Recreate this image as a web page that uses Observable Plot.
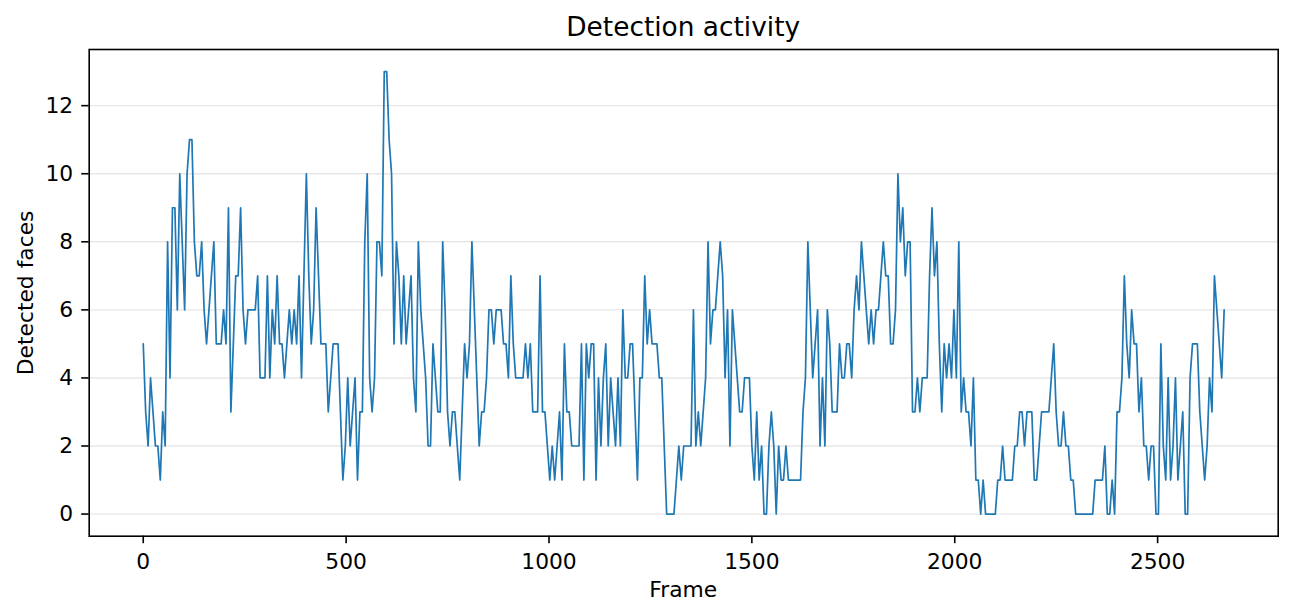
<!DOCTYPE html>
<html>
<head>
<meta charset="utf-8">
<script src="https://cdn.jsdelivr.net/npm/d3@7"></script>
<script src="https://cdn.jsdelivr.net/npm/@observablehq/plot@0.6"></script>
<style>
  html, body { margin: 0; padding: 0; background: #fff; }
  #wrap { position: relative; width: 1293px; height: 616px; font-family: "DejaVu Sans", sans-serif; color: #000; overflow: hidden; background: #fff; }
  #title { position: absolute; left: 88.7px; width: 1189px; top: 13.6px; text-align: center; font-size: 26.4px; line-height: 26.4px; white-space: nowrap; }
  #xlabel { position: absolute; left: 88.7px; width: 1189px; top: 578.6px; text-align: center; font-size: 21.8px; line-height: 21.8px; white-space: nowrap; }
  #ylabel { position: absolute; left: -174px; width: 400px; top: 281.5px; text-align: center; font-size: 21.8px; line-height: 21.8px; white-space: nowrap; transform: rotate(-90deg); }
  #chart { position: absolute; left: 0; top: 48px; }
</style>
</head>
<body>
<div id="wrap">
  <div id="title">Detection activity</div>
  <div id="chart"></div>
  <div id="xlabel">Frame</div>
  <div id="ylabel">Detected faces</div>
</div>
<script>
// Detected faces per sampled frame (one sample every 6 frames)
const faces = [
  5,3,2,4,3,2,2,1,3,2, 8,4,9,9,6,10,8,6,10,11, 11,8,7,7,8,6,5,6,7,8, 5,5,5,6,5,9,3,5,7,7,
  9,6,5,6,6,6,6,7,4,4, 4,7,4,6,5,
  7,5,5,4,5,6,5,6,5,7, 4,7,10,7,5,6,9,7,5,5, 5,3,4,5,5,5,3,1,2,4, 2,3,4,1,3,3,8,10,4,3,
  4,8,8,7,13,13,11,10,5,8, 7,5,7,
  5,6,7,4,3,8,6,5,4,2, 2,5,4,3,3,8,6,3,2,3, 3,2,1,3,5,4,5,8,6,4, 2,3,3,4,6,6,5,6,6,6,
  5,5,4,7,5,4,4,4,4,5, 4,5,3,3,3,7,3,3,
  2,1,2,1,2,3,1,5,3,3, 2,2,2,2,5,1,5,4,5,5, 1,4,2,4,5,2,4,3,2,4, 2,6,4,4,5,5,3,1,4,4,
  7,5,6,5,5,5,4,4,2,0, 0,0,0,1,2,
  1,2,2,2,2,6,2,3,2,3, 4,8,5,6,6,7,8,7,4,6, 2,6,5,4,3,3,4,4,4,2, 1,3,1,2,0,0,2,3,2,0,
  2,1,1,2,1,1,1,1,1,1, 3,4,8,6,4,
  5,6,2,4,2,6,5,3,3,3, 5,4,4,5,5,4,6,7,6,8, 7,6,5,6,5,6,6,7,8,7, 7,5,5,6,10,8,9,7,8,8,
  3,3,4,3,4,4,4,7,9,7, 8,5,3,5,4,5,
  4,6,4,8,3,4,3,3,2,4, 1,1,0,1,0,0,0,0,0,1, 1,2,1,1,1,1,2,2,3,3, 2,3,3,3,1,1,2,3,3,3,
  3,4,5,3,2,2,3,2,2,1, 1,0,0,0,0,
  0,0,0,0,1,1,1,1,2,0, 0,1,0,3,3,4,7,5,4,6, 5,5,3,4,2,2,1,2,2,0, 0,5,2,1,4,1,2,4,1,2,
  3,0,0,4,5,5,5,3,2,1, 2,4,3,7,6,5,4,6
];
const frameStep = 6;
const frames = faces.map((_, i) => i * frameStep);
const xTicks = [0, 500, 1000, 1500, 2000, 2500];
const yTicks = [0, 2, 4, 6, 8, 10, 12];

const data = faces.map((v, i) => ({frame: frames[i], faces: v}));

const chart = Plot.plot({
  width: 1293,
  height: 568,
  marginTop: 1,
  marginBottom: 80.3,
  marginLeft: 88.7,
  marginRight: 15.3,
  style: {fontFamily: '"DejaVu Sans", sans-serif', fontSize: "21.8px", color: "#000", background: "#fff", overflow: "visible"},
  x: {domain: [-133.2, 2797.2]},
  y: {domain: [-0.65, 13.65]},
  marks: [
    Plot.gridY(yTicks, {stroke: "#b0b0b0", strokeOpacity: 0.3, strokeWidth: 1.4}),
    Plot.line(data, {x: "frame", y: "faces", stroke: "#1f77b4", strokeWidth: 1.7}),
    Plot.frame({stroke: "#000", strokeWidth: 1.6}),
    Plot.axisX(xTicks, {tickSize: 7.5, tickPadding: 10, strokeWidth: 1.6, stroke: "#000", fill: "#000", fontSize: 21.8, label: null, tickFormat: d => String(d)}),
    Plot.axisY(yTicks, {tickSize: 7.5, tickPadding: 8.5, strokeWidth: 1.6, stroke: "#000", fill: "#000", fontSize: 21.8, label: null, tickFormat: d => String(d)})
  ]
});
document.getElementById("chart").appendChild(chart);
</script>
</body>
</html>
